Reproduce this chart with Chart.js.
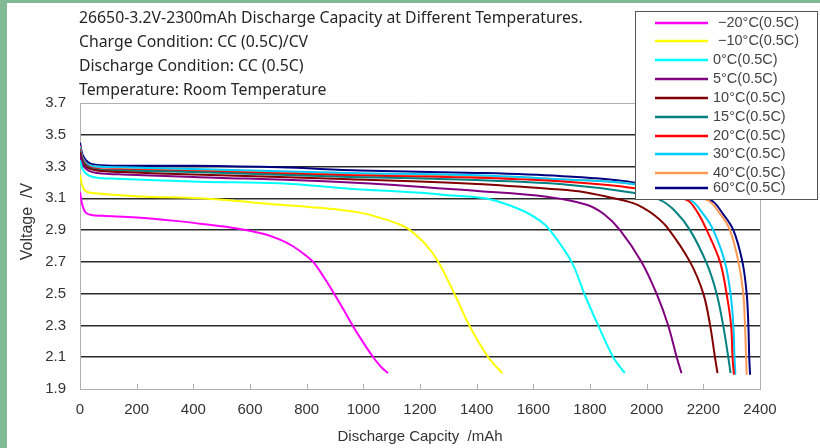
<!DOCTYPE html>
<html>
<head>
<meta charset="utf-8">
<script src="https://cdn.jsdelivr.net/npm/chart.js@4.4.1/dist/chart.umd.min.js"></script>
<style>
html, body { margin: 0; padding: 0; background: #fff; }
#wrap { position: relative; width: 820px; height: 448px; overflow: hidden; }
.band-left { position: absolute; left: 0; top: 0; width: 7px; height: 448px; background: #80b994; }
.band-top { position: absolute; left: 0; top: 0; width: 820px; height: 3px; background: #80b994; }
canvas { position: absolute; left: 0; top: 0; }
</style>
</head>
<body>
<div id="wrap">
  <div class="band-left"></div>
  <div class="band-top"></div>
  <canvas id="chart" width="820" height="448"></canvas>
</div>
<script>
/* Data */
const titleLines = [
    "26650-3.2V-2300mAh Discharge Capacity at Different Temperatures.",
    "Charge Condition: CC (0.5C)/CV",
    "Discharge Condition: CC (0.5C)",
    "Temperature: Room Temperature"
]
const seriesLabels = ["−20°C(0.5C)", "−10°C(0.5C)", "0°C(0.5C)", "5°C(0.5C)", "10°C(0.5C)",
                      "15°C(0.5C)", "20°C(0.5C)", "30°C(0.5C)", "40°C(0.5C)", "60°C(0.5C)"]
const seriesColors = ["#ff00ff", "#ffff00", "#00ffff", "#800080", "#800000",
                      "#008080", "#ff0000", "#00ccff", "#ff9955", "#000080"]

const capM20 = [0, 8, 20, 40, 80, 200, 353, 424, 554, 650, 706, 750, 790, 823, 862, 897, 930, 962, 997, 1035, 1062, 1087]
const voltM20 = [3.14, 3.06, 3.01, 2.995, 2.99, 2.98, 2.955, 2.94, 2.91, 2.875, 2.84, 2.80, 2.75, 2.70, 2.60, 2.50, 2.40, 2.30, 2.20, 2.10, 2.04, 2.0]

const capM10 = [0, 8, 20, 40, 100, 235, 424, 706, 847, 988, 1059, 1129, 1165, 1220, 1265, 1324, 1374, 1441, 1490]
const voltM10 = [3.25, 3.18, 3.145, 3.135, 3.125, 3.11, 3.10, 3.06, 3.04, 3.01, 2.977, 2.935, 2.90, 2.81, 2.70, 2.49, 2.30, 2.10, 2.0]

const cap0 = [0, 10, 30, 60, 106, 424, 706, 953, 1188, 1300, 1430, 1553, 1623, 1659, 1735, 1782, 1829, 1882, 1923]
const volt0 = [3.34, 3.28, 3.245, 3.23, 3.225, 3.205, 3.195, 3.16, 3.136, 3.12, 3.10, 3.03, 2.96, 2.90, 2.70, 2.49, 2.30, 2.10, 2.0]

const cap5 = [0, 10, 30, 60, 150, 400, 953, 1412, 1647, 1788, 1850, 1906, 1982, 2035, 2076, 2106, 2123]
const volt5 = [3.37, 3.31, 3.275, 3.26, 3.25, 3.235, 3.2, 3.145, 3.11, 3.06, 3.0, 2.90, 2.70, 2.50, 2.30, 2.10, 2.0]

const cap10 = [0, 10, 30, 60, 150, 400, 953, 1400, 1694, 1776, 1860, 1952, 1988, 2030, 2071, 2153, 2200, 2224, 2241, 2250]
const volt10 = [3.39, 3.32, 3.29, 3.275, 3.265, 3.25, 3.22, 3.19, 3.155, 3.14, 3.11, 3.07, 3.04, 2.99, 2.92, 2.70, 2.50, 2.30, 2.10, 2.0]

const cap15 = [0, 10, 30, 60, 150, 400, 953, 1400, 1694, 1952, 2047, 2100, 2153, 2212, 2247, 2270, 2288, 2296]
const volt15 = [3.40, 3.33, 3.295, 3.28, 3.275, 3.265, 3.235, 3.215, 3.19, 3.135, 3.09, 3.02, 2.90, 2.69, 2.50, 2.30, 2.10, 2.0]

const cap20 = [0, 10, 30, 60, 150, 400, 953, 1400, 1694, 1952, 2141, 2180, 2212, 2259, 2282, 2298, 2303, 2308]
const volt20 = [3.41, 3.34, 3.30, 3.285, 3.28, 3.27, 3.245, 3.23, 3.207, 3.165, 3.09, 3.01, 2.90, 2.70, 2.50, 2.30, 2.10, 1.99]

const cap30 = [0, 10, 30, 60, 150, 400, 953, 1400, 1694, 1952, 2153, 2200, 2235, 2276, 2296, 2306, 2310, 2313]
const volt30 = [3.42, 3.35, 3.31, 3.30, 3.295, 3.285, 3.26, 3.245, 3.22, 3.19, 3.09, 3.0, 2.90, 2.70, 2.50, 2.30, 2.10, 1.99]

const cap40 = [0, 10, 30, 60, 150, 400, 953, 1400, 1694, 1952, 2212, 2260, 2294, 2324, 2341, 2347, 2351, 2353]
const volt40 = [3.43, 3.35, 3.31, 3.30, 3.29, 3.28, 3.255, 3.24, 3.22, 3.19, 3.09, 3.0, 2.90, 2.70, 2.50, 2.30, 2.10, 1.99]

const cap60 = [0, 10, 30, 60, 150, 400, 706, 988, 1400, 1694, 1952, 2224, 2270, 2306, 2338, 2353, 2359, 2362, 2365]
const volt60 = [3.45, 3.37, 3.325, 3.31, 3.305, 3.305, 3.295, 3.275, 3.26, 3.24, 3.2, 3.09, 3.0, 2.90, 2.70, 2.50, 2.30, 2.10, 1.99]

const capSeries = [capM20, capM10, cap0, cap5, cap10, cap15, cap20, cap30, cap40, cap60]
const voltSeries = [voltM20, voltM10, volt0, volt5, volt10, volt15, volt20, volt30, volt40, volt60]

/* Utilities */
function toPoints(xs, ys){
    return xs.map(function(x, i){ return {x: x, y: ys[i]} })
}

const fontTick = {family: '"Liberation Sans", Arial, sans-serif', size: 15}
const legendRows = [23, 41, 60, 79, 98, 117, 136, 154, 173, 188]

const headerText = {
    id: 'headerText',
    afterDraw(chart){
        const ctx = chart.ctx
        ctx.save()
        ctx.fillStyle = '#262626'
        ctx.font = '15.8px "Noto Sans", "Open Sans", sans-serif'
        ctx.textBaseline = 'middle'
        titleLines.forEach(function(t, i){
            ctx.fillText(t, 79, 18 + i * 24)
        })
        ctx.restore()
    }
}

const frameTicks = {
    id: 'frameTicks',
    beforeDatasetsDraw(chart){
        const ctx = chart.ctx
        const a = chart.chartArea
        const xs = chart.scales.x
        ctx.save()
        ctx.strokeStyle = '#b0b0b0'
        ctx.lineWidth = 1
        ctx.beginPath()
        xs.ticks.forEach(function(t){
            if(t.value <= 0 || t.value >= 2400){ return }
            const px = Math.round(xs.getPixelForValue(t.value)) + 0.5
            ctx.moveTo(px, a.bottom)
            ctx.lineTo(px, a.bottom - 5)
        })
        ctx.stroke()
        ctx.restore()
    }
}

const legendBox = {
    id: 'legendBox',
    afterDatasetsDraw(chart){
        const ctx = chart.ctx
        ctx.save()
        ctx.fillStyle = '#fff'
        ctx.fillRect(635, 11, 184, 188)
        ctx.strokeStyle = '#555'
        ctx.lineWidth = 1
        ctx.strokeRect(635.5, 11.5, 182, 188)
        ctx.font = '14.5px "Liberation Sans", Arial, sans-serif'
        ctx.textBaseline = 'middle'
        chart.data.datasets.forEach(function(ds, i){
            const y = legendRows[i]
            ctx.strokeStyle = ds.borderColor
            ctx.lineWidth = 2.5
            ctx.beginPath()
            ctx.moveTo(655, y)
            ctx.lineTo(708, y)
            ctx.stroke()
            ctx.fillStyle = '#444'
            ctx.fillText(ds.label, ds.label.startsWith('−') ? 718 : 713, y)
        })
        ctx.restore()
    }
}

const datasets = seriesLabels.map(function(label, i){
    return {
        label: label,
        data: toPoints(capSeries[i], voltSeries[i]),
        borderColor: seriesColors[i],
        backgroundColor: seriesColors[i],
        borderWidth: 2,
        pointRadius: 0,
        tension: 0.35,
        fill: false
    }
})

new Chart(document.getElementById('chart'), {
    type: 'line',
    data: {datasets: datasets},
    plugins: [frameTicks, legendBox, headerText],
    options: {
        responsive: false,
        animation: false,
        layout: {padding: {top: 103, right: 60, left: 0, bottom: 0}},
        plugins: {
            legend: {display: false},
            tooltip: {enabled: false}
        },
        scales: {
            x: {
                type: 'linear',
                min: 0,
                max: 2400,
                afterFit: function(s){ s.height = 59 },
                ticks: {
                    stepSize: 200,
                    padding: 12,
                    color: '#333',
                    font: fontTick,
                    maxRotation: 0,
                    callback: function(v){ return String(v) }
                },
                grid: {
                    drawTicks: false,
                    color: function(c){ return c.tick && c.tick.value === 2400 ? '#b0b0b0' : 'rgba(0,0,0,0)' }
                },
                border: {color: '#b0b0b0', width: 1},
                title: {display: true, text: 'Discharge Capcity  /mAh', color: '#333', font: fontTick, padding: {top: 0, bottom: 2}}
            },
            y: {
                min: 1.9,
                max: 3.7,
                afterFit: function(s){ s.width = 80 },
                ticks: {
                    stepSize: 0.2,
                    padding: 14,
                    color: '#333',
                    font: fontTick,
                    callback: function(v){ return Number(v).toFixed(1) }
                },
                grid: {
                    drawTicks: false,
                    lineWidth: function(c){
                        const v = c.tick ? c.tick.value : 0
                        return (Math.abs(v - 3.7) < 0.01 || Math.abs(v - 1.9) < 0.01) ? 1 : 1.6
                    },
                    color: function(c){
                        const v = c.tick ? c.tick.value : 0
                        return (Math.abs(v - 3.7) < 0.01 || Math.abs(v - 1.9) < 0.01) ? '#b0b0b0' : '#2a2a2a'
                    }
                },
                border: {color: '#b0b0b0', width: 1},
                title: {display: true, text: '           Voltage  /V', color: '#333', font: {family: fontTick.family, size: 16}, padding: {top: 18, bottom: 0}}
            }
        }
    }
});
</script>
</body>
</html>
